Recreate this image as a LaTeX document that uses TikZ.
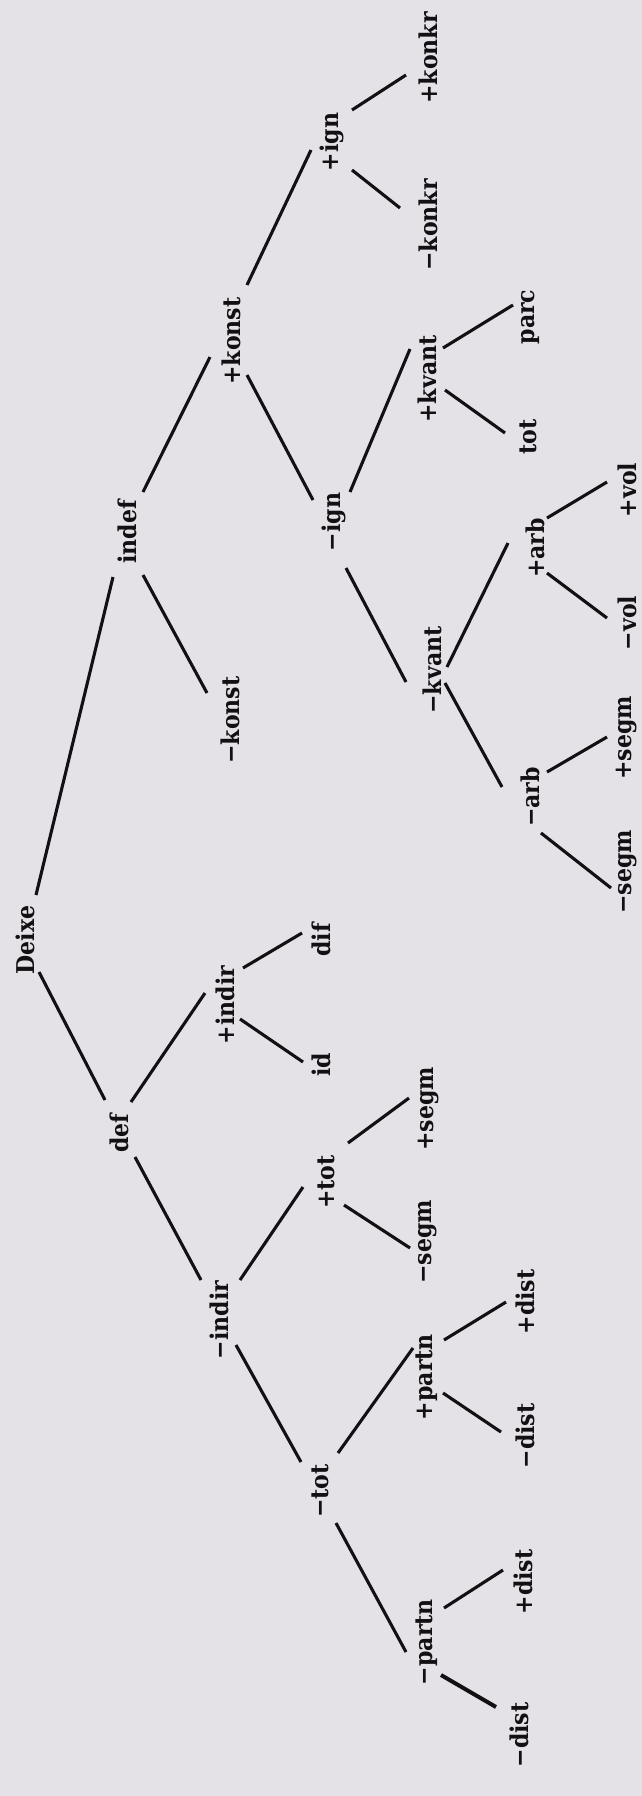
\documentclass[tikz,border=0pt]{standalone}
\usepackage{fontspec}
\setmainfont{DejaVu Serif Condensed}
\usetikzlibrary{calc}
\definecolor{paper}{RGB}{229,226,231}
\definecolor{ink}{RGB}{18,16,18}
\begin{document}
\begin{tikzpicture}[x=1pt,y=-1pt,
  lab/.style={rotate=90, inner sep=0pt, text=ink, font=\fontsize{24.5}{28}\selectfont\bfseries},
  edge/.style={draw=ink, line width=3.1pt},
  thick edge/.style={draw=ink, line width=4pt}]
\fill[paper] (0,0) rectangle (642,1796);
\useasboundingbox (0,0) rectangle (642,1796);
% nodes
\node[lab] (deixe)  at (25,940)   {Deixe};
\node[lab] (indef)  at (127,532)  {indef};
\node[lab] (def)    at (119,1133) {def};
\node[lab] (pkonst) at (231,341)  {+konst};
\node[lab] (mkonst) at (230,720)  {−konst};
\node[lab] (pign)   at (332,142)  {+ign};
\node[lab] (mign)   at (334,522)  {−ign};
\node[lab] (pkonkr) at (428,58)   {+konkr};
\node[lab] (mkonkr) at (428,225)  {−konkr};
\node[lab] (pkvant) at (427,379)  {+kvant};
\node[lab] (mkvant) at (432,670)  {−kvant};
\node[lab] (parc)   at (531,317)  {parc};
\node[lab] (totR)   at (528,437)  {tot};
\node[lab] (parb)   at (535,548)  {+arb};
\node[lab] (marb)   at (530,797)  {−arb};
\node[lab] (pvol)   at (627,490)  {+vol};
\node[lab] (mvol)   at (627,623)  {−vol};
\node[lab] (psegmR) at (627,738)  {+segm};
\node[lab] (msegmR) at (628,872)  {−segm};
\node[lab] (pindir) at (225,1005) {+indir};
\node[lab] (dif)    at (321,940)  {dif};
\node[lab] (id)     at (321,1065) {id};
\node[lab] (mindir) at (219,1320) {−indir};
\node[lab] (ptot)   at (326,1182) {+tot};
\node[lab] (psegmL) at (429,1109) {+segm};
\node[lab] (msegmL) at (428,1242) {−segm};
\node[lab] (mtot)   at (320,1491) {−tot};
\node[lab] (ppartn) at (427,1377) {+partn};
\node[lab] (mpartn) at (427,1642) {−partn};
\node[lab] (pdistU) at (525,1302) {+dist};
\node[lab] (mdistU) at (525,1436) {−dist};
\node[lab] (pdistL) at (523,1582) {+dist};
\node[lab] (mdistL) at (519,1735) {−dist};
% edges
\draw[edge] ($(deixe)+(11,-45)$) -- ($(indef)+(-14,45)$);
\draw[edge] ($(deixe)+(14,32)$) -- ($(def)+(-14,-33)$);
\draw[edge] ($(indef)+(16,-40)$) -- ($(pkonst)+(-21,16)$);
\draw[edge] ($(indef)+(16,43)$) -- ($(mkonst)+(-23,-27)$);
\draw[edge] ($(pkonst)+(16,-56)$) -- ($(pign)+(-21,8)$);
\draw[edge] ($(pkonst)+(16,34)$) -- ($(mign)+(-21,-22)$);
\draw[edge] ($(pign)+(20,-32)$) -- ($(pkonkr)+(-22,17)$);
\draw[edge] ($(pign)+(20,28)$) -- ($(mkonkr)+(-28,-17)$);
\draw[edge] ($(mign)+(16,-30)$) -- ($(pkvant)+(-17,-30)$);
\draw[edge] ($(mign)+(12,46)$) -- ($(mkvant)+(-26,12)$);
\draw[edge] ($(pkvant)+(16,-31)$) -- ($(parc)+(-18,-12)$);
\draw[edge] ($(pkvant)+(18,11)$) -- ($(totR)+(-23,-4)$);
\draw[edge] ($(mkvant)+(15,-3)$) -- ($(parb)+(-27,-5)$);
\draw[edge] ($(mkvant)+(13,13)$) -- ($(marb)+(-28,-10)$);
\draw[edge] ($(parb)+(12,-30)$) -- ($(pvol)+(-20,-8)$);
\draw[edge] ($(parb)+(12,25)$) -- ($(mvol)+(-20,-5)$);
\draw[edge] ($(marb)+(17,-25)$) -- ($(psegmR)+(-20,-1)$);
\draw[edge] ($(marb)+(11,36)$) -- ($(msegmR)+(-17,16)$);
\draw[edge] ($(def)+(12,-31)$) -- ($(pindir)+(-20,-12)$);
\draw[edge] ($(def)+(16,24)$) -- ($(mindir)+(-18,-40)$);
\draw[edge] ($(pindir)+(18,-37)$) -- ($(dif)+(-19,-7)$);
\draw[edge] ($(pindir)+(15,14)$) -- ($(id)+(-18,-3)$);
\draw[edge] ($(mindir)+(21,-40)$) -- ($(ptot)+(-23,5)$);
\draw[edge] ($(mindir)+(17,25)$) -- ($(mtot)+(-19,-29)$);
\draw[edge] ($(ptot)+(22,-39)$) -- ($(psegmL)+(-20,-11)$);
\draw[edge] ($(ptot)+(18,23)$) -- ($(msegmL)+(-18,6)$);
\draw[edge] ($(mtot)+(18,-38)$) -- ($(ppartn)+(-14,-29)$);
\draw[edge] ($(mtot)+(16,32)$) -- ($(mpartn)+(-21,10)$);
\draw[edge] ($(ppartn)+(17,-37)$) -- ($(pdistU)+(-19,0)$);
\draw[edge] ($(ppartn)+(16,16)$) -- ($(mdistU)+(-24,-4)$);
\draw[edge] ($(mpartn)+(17,-34)$) -- ($(pdistL)+(-20,-12)$);
\draw[thick edge] ($(mpartn)+(14,33)$) -- ($(mdistL)+(-23,-28)$);
\end{tikzpicture}
\end{document}
